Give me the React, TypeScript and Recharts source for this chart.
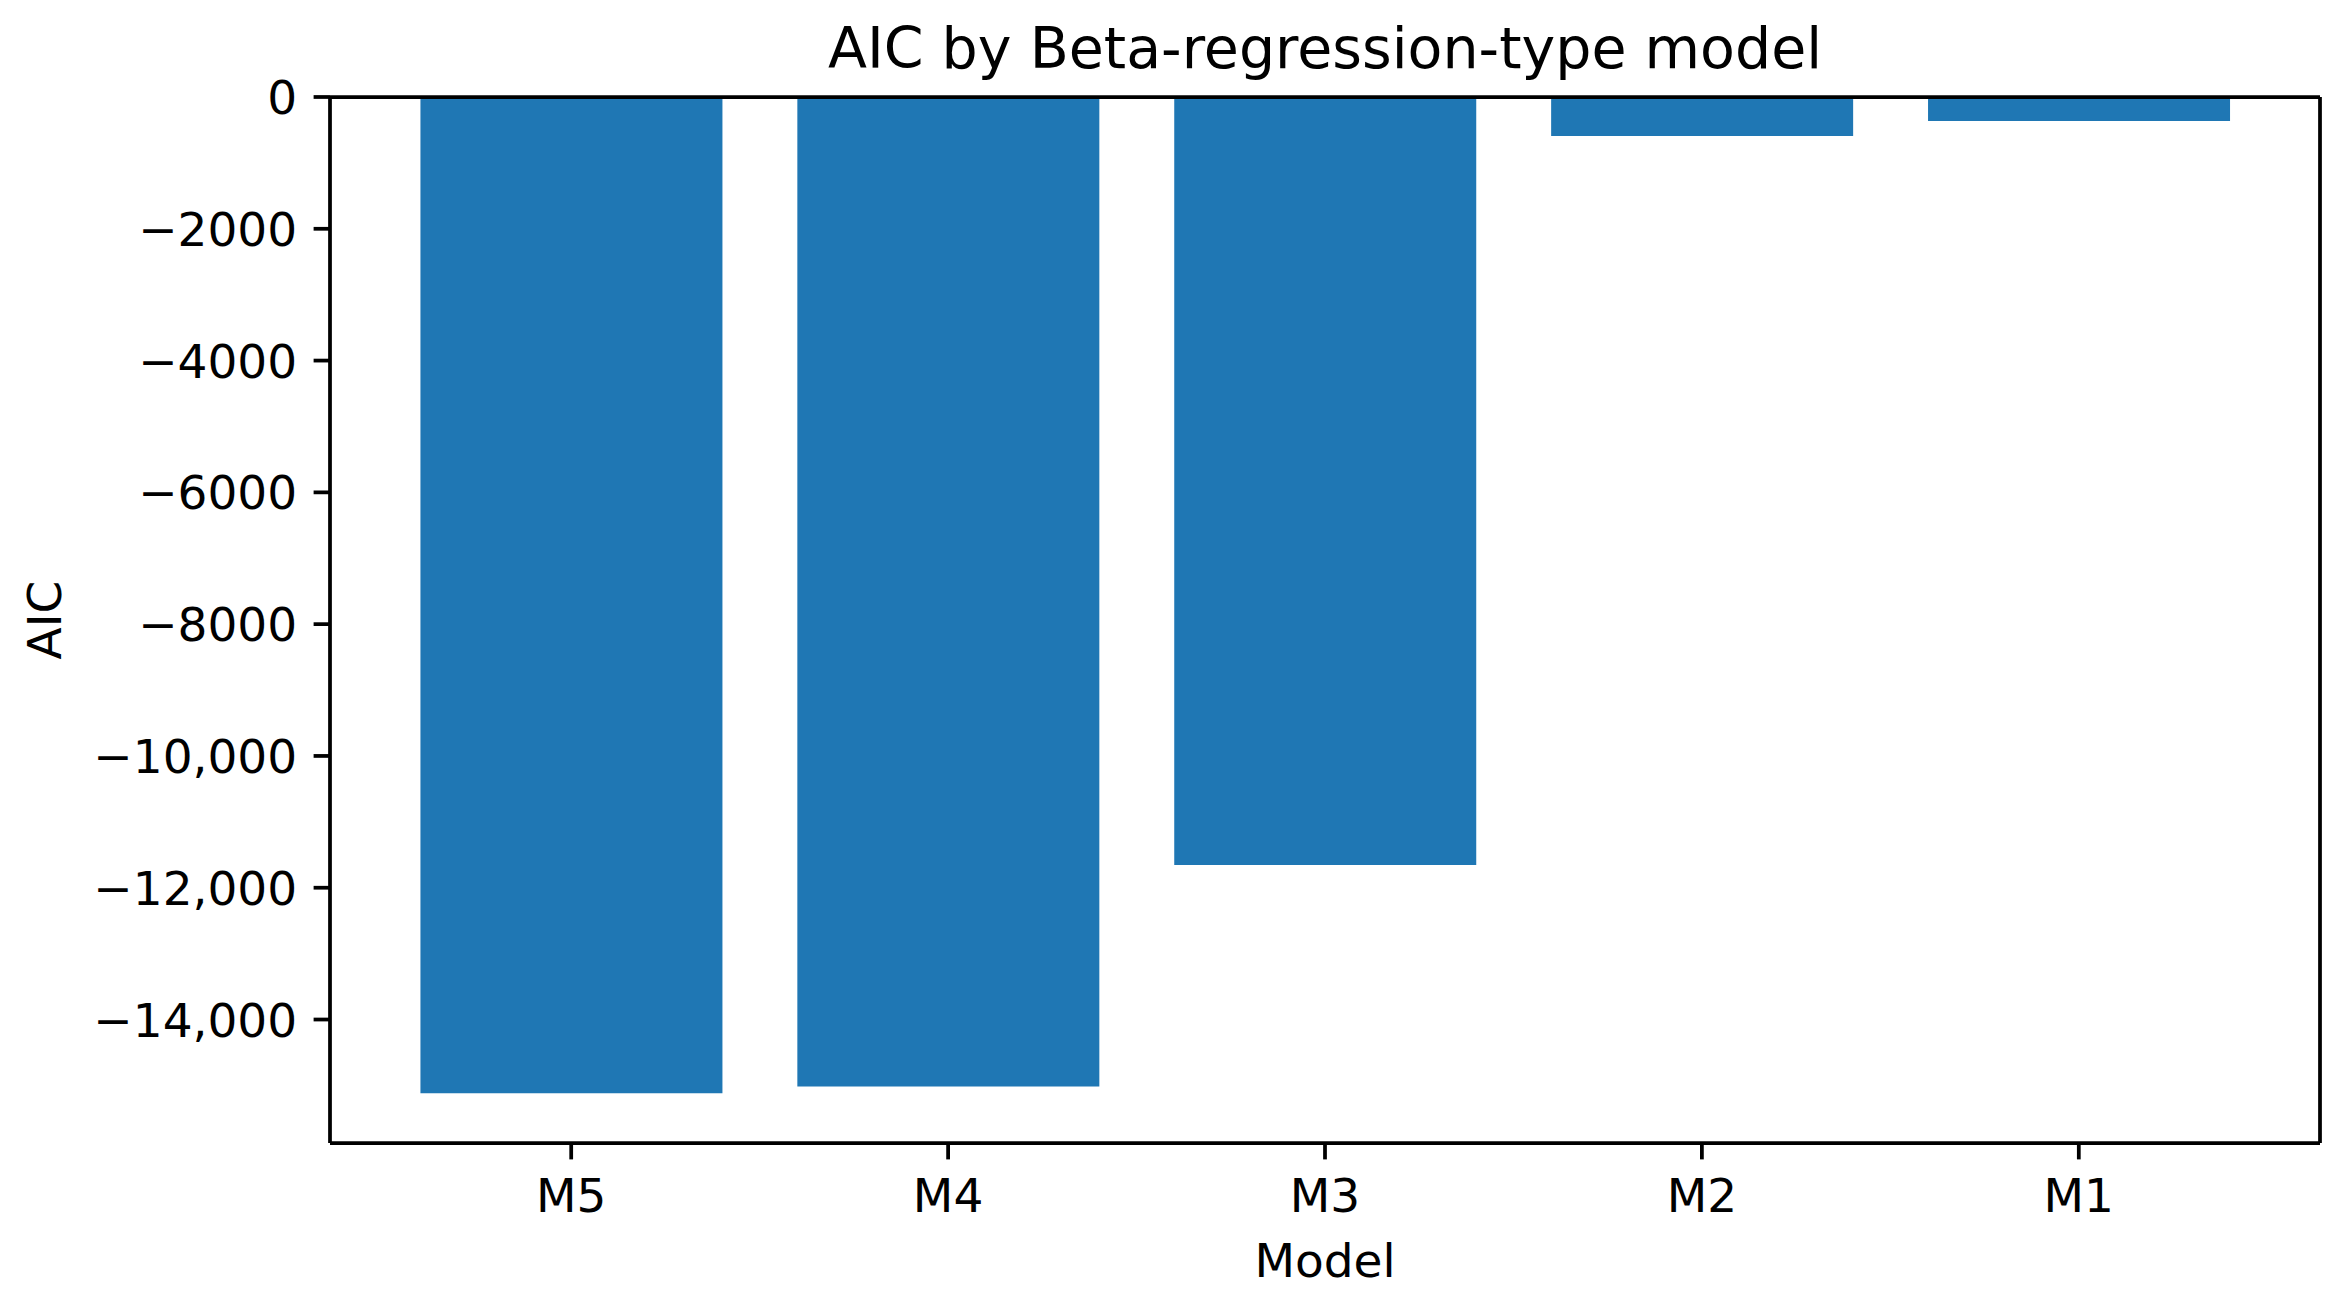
import React from 'react';
import { BarChart, Bar, XAxis, YAxis, Customized } from 'recharts';

const models = ['M5', 'M4', 'M3', 'M2', 'M1'];
const aicValues = [-15118, -15018, -11654, -592, -364];
const yTicks = [0, -2000, -4000, -6000, -8000, -10000, -12000, -14000];
const titleText = 'AIC by Beta-regression-type model';
const xLabelText = 'Model';
const yLabelText = 'AIC';

const data = models.map((m, i) => ({ model: m, aic: aicValues[i] }));
const yMin = Math.min(...aicValues) * 1.05;

const FONT = '"DejaVu Sans", sans-serif';
const TICK_FS = 47;
const LW = 3.75;

const fmt = (v: number) => {
  if (v === 0) return '0';
  const a = Math.abs(v);
  return '\u2212' + (a >= 10000 ? a.toLocaleString('en-US') : String(a));
};

const YTick = (props: any) => {
  const { x, y, payload } = props;
  return (
    <text x={x} y={y + 17} textAnchor="end" fontSize={TICK_FS} fontFamily={FONT} fill="#000">
      {fmt(payload.value)}
    </text>
  );
};

const XTick = (props: any) => {
  const { x, y, payload } = props;
  return (
    <text x={x} y={y + 33.4} textAnchor="middle" fontSize={TICK_FS} fontFamily={FONT} fill="#000">
      {payload.value}
    </text>
  );
};

const Labels = () => (
  <g>
    <text x={1325} y={68} textAnchor="middle" fontSize={57} fontFamily={FONT} fill="#000">
      {titleText}
    </text>
    <text x={1325} y={1277} textAnchor="middle" fontSize={TICK_FS} fontFamily={FONT} fill="#000">
      {xLabelText}
    </text>
    <text
      x={61}
      y={620}
      textAnchor="middle"
      fontSize={TICK_FS}
      fontFamily={FONT}
      fill="#000"
      transform="rotate(-90, 61, 620)"
    >
      {yLabelText}
    </text>
  </g>
);

export default function App() {
  return (
    <div style={{ position: 'absolute', left: 0, top: 0, width: 2339, height: 1303, background: '#fff' }}>
      <BarChart
        width={2339}
        height={1303}
        data={data}
        margin={{ top: 96, right: 18, bottom: 0, left: 0 }}
        barCategoryGap="10%"
      >
        <XAxis
          dataKey="model"
          height={160}
          padding={{ left: 52.75, right: 52.75 }}
          axisLine={{ stroke: '#000', strokeWidth: LW }}
          tickLine={{ stroke: '#000', strokeWidth: LW }}
          tickSize={16.4}
          tickMargin={19}
          tick={<XTick />}
          interval={0}
        />
        <XAxis
          xAxisId="top"
          orientation="top"
          dataKey="model"
          height={1}
          padding={{ left: 52.75, right: 52.75 }}
          axisLine={{ stroke: '#000', strokeWidth: LW }}
          tickLine={false}
          tick={false}
        />
        <YAxis
          width={330}
          domain={[yMin, 0]}
          ticks={yTicks}
          type="number"
          allowDataOverflow
          axisLine={{ stroke: '#000', strokeWidth: LW }}
          tickLine={{ stroke: '#000', strokeWidth: LW }}
          tickSize={16.4}
          tickMargin={16.4}
          tick={<YTick />}
          interval={0}
        />
        <YAxis
          yAxisId="right"
          orientation="right"
          width={1}
          domain={[yMin, 0]}
          type="number"
          axisLine={{ stroke: '#000', strokeWidth: LW }}
          tickLine={false}
          tick={false}
        />
        <Bar dataKey="aic" fill="#1f77b4" isAnimationActive={false} />
        <Customized component={<Labels />} />
      </BarChart>
    </div>
  );
}
